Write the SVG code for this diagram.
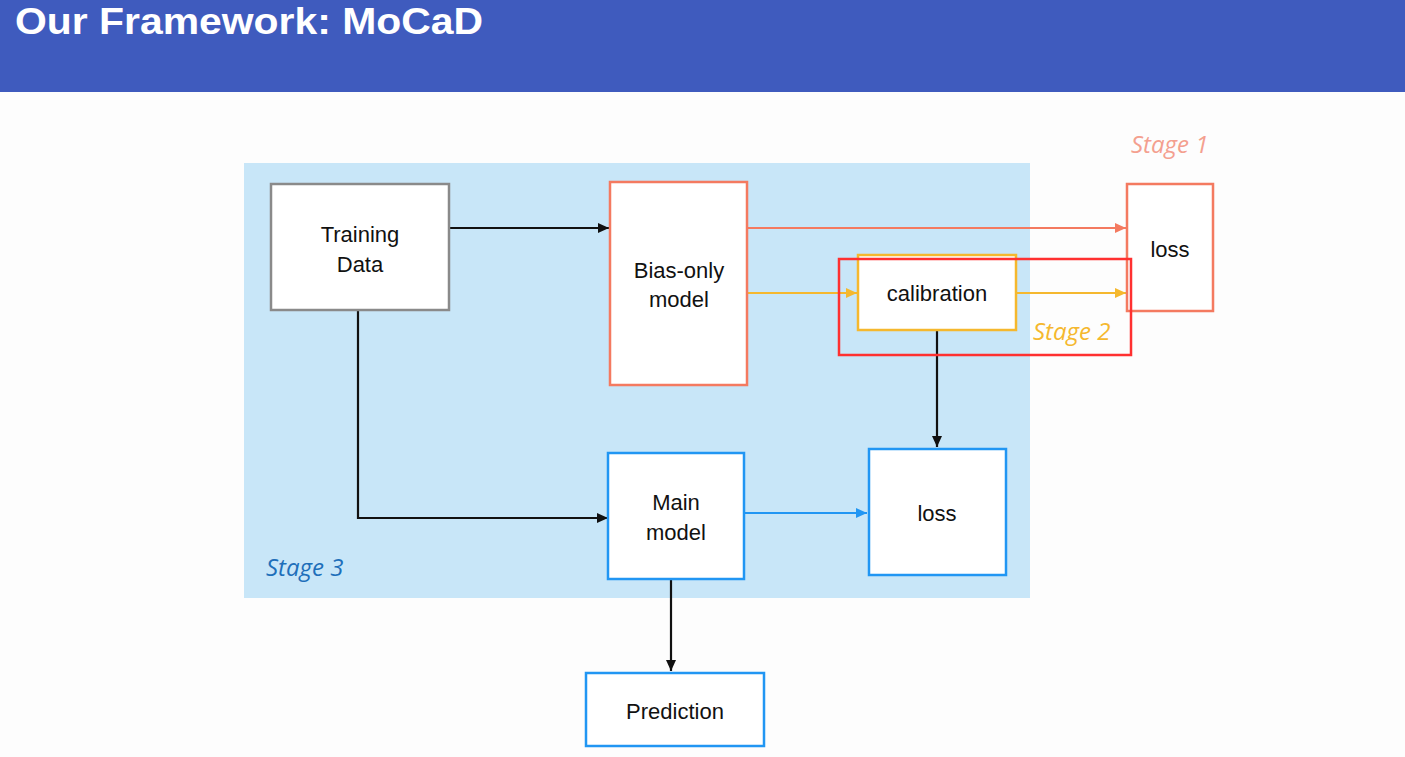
<svg xmlns="http://www.w3.org/2000/svg" width="1405" height="757" viewBox="0 0 1405 757">
<style>
.lbl{font-family:"Liberation Sans",Arial,sans-serif;font-size:22px;fill:#111;text-anchor:middle}
.stage{font-family:"Open Sans","Noto Sans",sans-serif;font-style:italic;font-size:24px}
.box{fill:#fff;stroke-width:2.5}
.con{fill:none;stroke-width:2.2}
</style>
<defs>
<marker id="ak" markerUnits="userSpaceOnUse" markerWidth="12" markerHeight="10" refX="11" refY="5" orient="auto"><path d="M0,0 L11,5 L0,10 Z" fill="#111"/></marker>
<marker id="as" markerUnits="userSpaceOnUse" markerWidth="12" markerHeight="10" refX="11" refY="5" orient="auto"><path d="M0,0 L11,5 L0,10 Z" fill="#F47A60"/></marker>
<marker id="ay" markerUnits="userSpaceOnUse" markerWidth="12" markerHeight="10" refX="11" refY="5" orient="auto"><path d="M0,0 L11,5 L0,10 Z" fill="#F5B82E"/></marker>
<marker id="ab" markerUnits="userSpaceOnUse" markerWidth="12" markerHeight="10" refX="11" refY="5" orient="auto"><path d="M0,0 L11,5 L0,10 Z" fill="#2196F3"/></marker>
</defs>
<rect x="0" y="0" width="1405" height="757" fill="#FDFDFD"/>
<g id="header">
<rect x="0" y="0" width="1405" height="92" fill="#3F5BBE"/>
<text x="15" y="34" font-family="'Liberation Sans',Arial,sans-serif" font-weight="bold" font-size="37" fill="#fff" textLength="468" lengthAdjust="spacingAndGlyphs">Our Framework: MoCaD</text>
</g>
<g id="stage3-area">
<rect x="244" y="163" width="786" height="435" fill="#C8E6F8"/>
<text class="stage" x="266" y="576" fill="#1E6FBA">Stage 3</text>
</g>
<text class="stage" x="1131" y="153" fill="#F4A08F">Stage 1</text>
<text class="stage" x="1033" y="340" fill="#F5B82E">Stage 2</text>
<g id="connectors">
<path class="con" d="M449,228 H609" stroke="#111" marker-end="url(#ak)"/>
<path class="con" d="M358,310 V518 H608" stroke="#111" marker-end="url(#ak)"/>
<path class="con" d="M748,228 H1126" stroke="#F47A60" marker-end="url(#as)"/>
<path class="con" d="M748,293 H857" stroke="#F5B82E" marker-end="url(#ay)"/>
<path class="con" d="M1016,293 H1126" stroke="#F5B82E" marker-end="url(#ay)"/>
<path class="con" d="M937,331 V447" stroke="#111" marker-end="url(#ak)"/>
<path class="con" d="M745,513 H867" stroke="#2196F3" marker-end="url(#ab)"/>
<path class="con" d="M671,580 V671" stroke="#111" marker-end="url(#ak)"/>
</g>
<g id="training-data">
<rect class="box" x="271" y="184" width="178" height="126" stroke="#8A8A8A"/>
<text class="lbl" x="360" y="242">Training</text>
<text class="lbl" x="360" y="272">Data</text>
</g>
<g id="bias-only-model">
<rect class="box" x="610" y="182" width="137" height="203" stroke="#F47A60"/>
<text class="lbl" x="679" y="278">Bias-only</text>
<text class="lbl" x="679" y="307">model</text>
</g>
<g id="calibration">
<rect class="box" x="858" y="255" width="158" height="75" stroke="#F5B82E"/>
<text class="lbl" x="937" y="301">calibration</text>
</g>
<g id="loss-stage1">
<rect class="box" x="1127" y="184" width="86" height="127" stroke="#F47A60"/>
<text class="lbl" x="1170" y="257">loss</text>
</g>
<g id="main-model">
<rect class="box" x="608" y="453" width="136" height="126" stroke="#2196F3"/>
<text class="lbl" x="676" y="510">Main</text>
<text class="lbl" x="676" y="540">model</text>
</g>
<g id="loss-stage3">
<rect class="box" x="869" y="449" width="137" height="126" stroke="#2196F3"/>
<text class="lbl" x="937" y="521">loss</text>
</g>
<g id="prediction">
<rect class="box" x="586" y="673" width="178" height="73" stroke="#2196F3"/>
<text class="lbl" x="675" y="719">Prediction</text>
</g>
<g id="highlight">
<rect x="839" y="259" width="292" height="96" fill="none" stroke="#FF3030" stroke-width="2.5"/>
</g>
</svg>
